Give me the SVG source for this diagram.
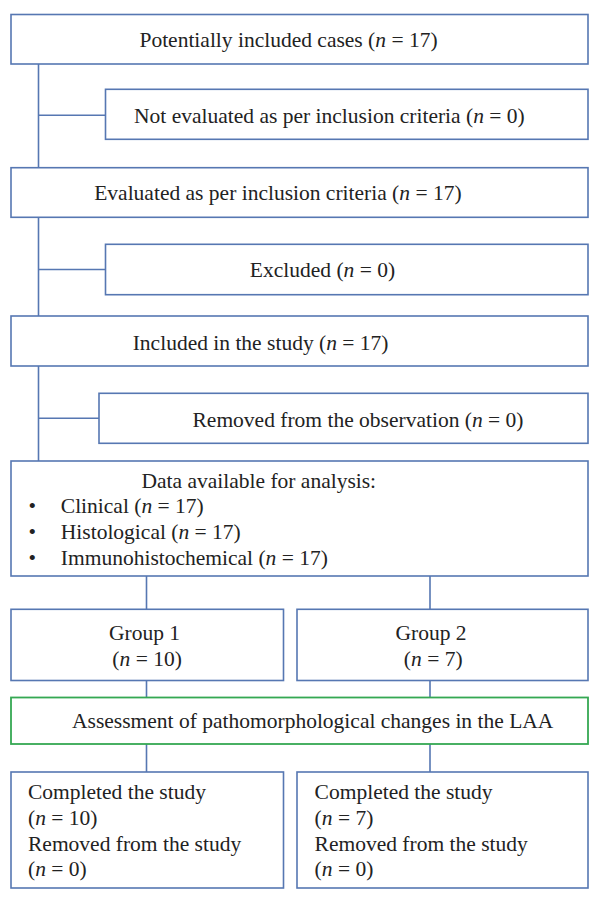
<svg xmlns="http://www.w3.org/2000/svg" width="600" height="898" viewBox="0 0 600 898">
<style>
.box{fill:#fff;stroke:#5677b2;stroke-width:1.6}
.gbox{fill:#fff;stroke:#35a853;stroke-width:1.8}
.ln{stroke:#5677b2;stroke-width:1.6;fill:none}
text{font-family:"Liberation Serif","Times New Roman",serif;font-size:21.5px;fill:#222}
.c{text-anchor:middle}
.i{font-style:italic}
</style>
<rect width="600" height="898" fill="#fff"/>
<g id="connectors">
<path class="ln" d="M38.5,64 V168 M38.5,115.3 H105.5"/>
<path class="ln" d="M38.5,217.3 V316 M38.5,269.5 H105.5"/>
<path class="ln" d="M38.5,366 V474 M38.5,418.3 H99"/>
<path class="ln" d="M146.5,576 V609 M430,576 V609"/>
<path class="ln" d="M146.5,680.5 V697.5 M430,680.5 V697.5"/>
<path class="ln" d="M146.5,744 V772 M430,744 V772"/>
</g>
<g id="n1"><rect class="box" x="11" y="14.5" width="577" height="49.5"/>
<text class="c" x="288.5" y="47">Potentially included cases (<tspan class="i">n</tspan> = 17)</text></g>
<g id="n2"><rect class="box" x="105.5" y="89.3" width="482.5" height="50"/>
<text class="c" x="329.4" y="123">Not evaluated as per inclusion criteria (<tspan class="i">n</tspan> = 0)</text></g>
<g id="n3"><rect class="box" x="11" y="167.7" width="577" height="49.6"/>
<text class="c" x="277.9" y="200">Evaluated as per inclusion criteria (<tspan class="i">n</tspan> = 17)</text></g>
<g id="n4"><rect class="box" x="105.5" y="244.3" width="482.5" height="50.4"/>
<text class="c" x="322.5" y="277.3">Excluded (<tspan class="i">n</tspan> = 0)</text></g>
<g id="n5"><rect class="box" x="11" y="316" width="577" height="50"/>
<text class="c" x="260.6" y="350">Included in the study (<tspan class="i">n</tspan> = 17)</text></g>
<g id="n6"><rect class="box" x="99" y="393.3" width="489" height="50"/>
<text class="c" x="358" y="426.7">Removed from the observation (<tspan class="i">n</tspan> = 0)</text></g>
<g id="n7"><rect class="box" x="11" y="461" width="577" height="115"/>
<text class="c" x="258.8" y="488.3">Data available for analysis:</text>
<text x="28.5" y="513.3">•</text>
<text x="60.8" y="513.3">Clinical (<tspan class="i">n</tspan> = 17)</text>
<text x="28.5" y="539.3">•</text>
<text x="60.8" y="539.3">Histological (<tspan class="i">n</tspan> = 17)</text>
<text x="28.5" y="565.3">•</text>
<text x="60.8" y="565.3">Immunohistochemical (<tspan class="i">n</tspan> = 17)</text></g>
<g id="n8"><rect class="box" x="11" y="609.3" width="272.5" height="71.2"/>
<text class="c" x="144.6" y="640.3">Group 1</text>
<text class="c" x="147.1" y="665.5">(<tspan class="i">n</tspan> = 10)</text></g>
<g id="n9"><rect class="box" x="297" y="609.3" width="291" height="71.2"/>
<text class="c" x="431" y="640.3">Group 2</text>
<text class="c" x="433.2" y="665.5">(<tspan class="i">n</tspan> = 7)</text></g>
<g id="n10"><rect class="gbox" x="11" y="697.5" width="577" height="46.5"/>
<text class="c" x="312.7" y="728">Assessment of pathomorphological changes in the LAA</text></g>
<g id="n11"><rect class="box" x="11" y="772" width="272.5" height="116"/>
<text x="28" y="799">Completed the study</text>
<text x="28" y="824.5">(<tspan class="i">n</tspan> = 10)</text>
<text x="28" y="850.5">Removed from the study</text>
<text x="28" y="876">(<tspan class="i">n</tspan> = 0)</text></g>
<g id="n12"><rect class="box" x="297" y="772" width="291" height="116"/>
<text x="314.6" y="799">Completed the study</text>
<text x="314.6" y="824.5">(<tspan class="i">n</tspan> = 7)</text>
<text x="314.6" y="850.5">Removed from the study</text>
<text x="314.6" y="876">(<tspan class="i">n</tspan> = 0)</text></g>
</svg>
